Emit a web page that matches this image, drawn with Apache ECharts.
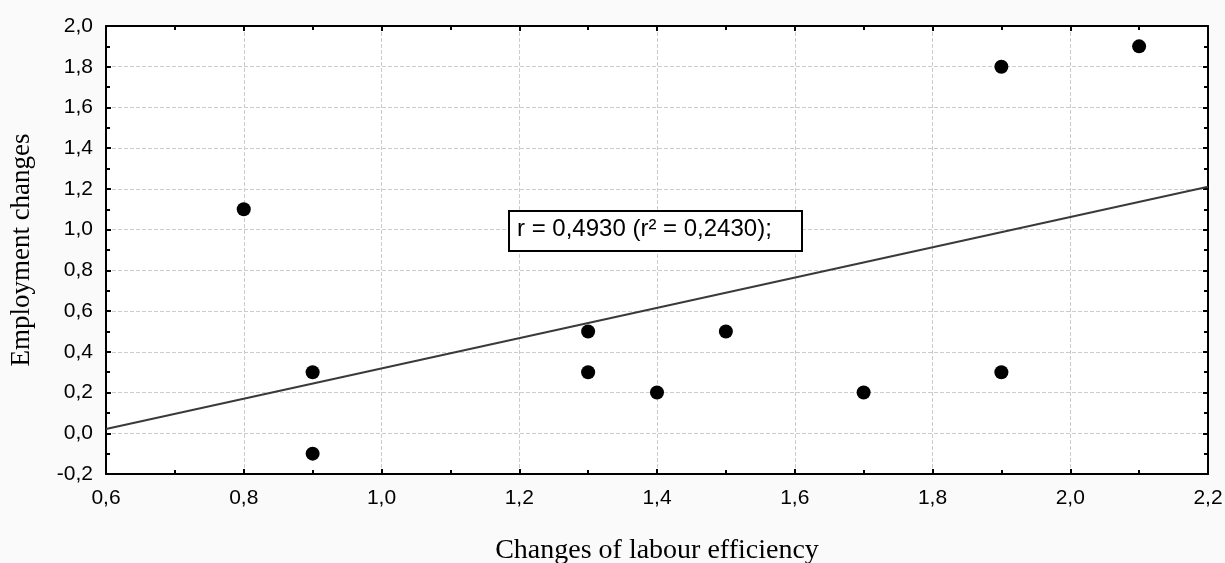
<!DOCTYPE html>
<html><head><meta charset="utf-8">
<script src="https://cdn.jsdelivr.net/npm/echarts@6/dist/echarts.min.js"></script>
<style>html,body{margin:0;padding:0;background:#fafafa}#c{width:1225px;height:563px}</style>
</head><body><div id="c"></div>
<script>
var xValues = [0.8, 0.9, 0.9, 1.3, 1.3, 1.4, 1.5, 1.7, 1.9, 1.9, 2.1];
var yValues = [1.1, 0.3, -0.1, 0.5, 0.3, 0.2, 0.5, 0.2, 1.8, 0.3, 1.9];
var xTitle = 'Changes of labour efficiency';
var yTitle = 'Employment changes';
var annotation = 'r = 0,4930 (r² = 0,2430);';

// least squares fit from the data
var n = xValues.length, mx = 0, my = 0;
for (var i = 0; i < n; i++) { mx += xValues[i]; my += yValues[i]; }
mx /= n; my /= n;
var sxy = 0, sxx = 0;
for (var i = 0; i < n; i++) { sxy += (xValues[i]-mx)*(yValues[i]-my); sxx += (xValues[i]-mx)*(xValues[i]-mx); }
var slope = sxy/sxx, icpt = my - slope*mx;
var fitLine = [[0.6, icpt + slope*0.6], [2.2, icpt + slope*2.2]];
var points = xValues.map(function(x, i){ return [x, yValues[i]]; });

var fmt = function(v){ return v.toFixed(1).replace('.', ','); };
var chart = echarts.init(document.getElementById('c'));
var axisBase = {
  axisLine: {show: true, onZero: false, lineStyle: {color: '#000', width: 2}},
  axisTick: {show: true, inside: true, length: 5, lineStyle: {color: '#000', width: 2}},
  minorTick: {show: true, splitNumber: 2, length: 4, lineStyle: {color: '#000', width: 2}}
};
chart.setOption({
  backgroundColor: '#fafafa',
  animation: false,
  grid: {left: 106, right: 17, top: 26, bottom: 89, show: true, backgroundColor: '#fff', borderWidth: 0,
         containLabel: false, outerBoundsMode: 'none'},
  xAxis: [
    Object.assign({type: 'value', min: 0.6, max: 2.2, interval: 0.2, position: 'bottom',
      name: xTitle, nameLocation: 'middle', nameGap: 63,
      nameTextStyle: {fontFamily: 'Liberation Serif', fontSize: 28, color: '#000'},
      axisLabel: {formatter: fmt, fontFamily: 'Liberation Sans', fontSize: 21, color: '#000', margin: 14},
      splitLine: {show: true, lineStyle: {color: '#ccc', type: 'dashed', width: 1}}}, axisBase),
    Object.assign({type: 'value', min: 0.6, max: 2.2, interval: 0.2, position: 'top',
      axisLabel: {show: false}, splitLine: {show: false}}, axisBase)
  ],
  yAxis: [
    Object.assign({type: 'value', min: -0.2, max: 2.0, interval: 0.2, position: 'left',
      name: yTitle, nameLocation: 'middle', nameGap: 71,
      nameTextStyle: {fontFamily: 'Liberation Serif', fontSize: 27, color: '#000'},
      axisLabel: {formatter: fmt, fontFamily: 'Liberation Sans', fontSize: 21, color: '#000', margin: 13},
      splitLine: {show: true, lineStyle: {color: '#ccc', type: 'dashed', width: 1}}}, axisBase),
    Object.assign({type: 'value', min: -0.2, max: 2.0, interval: 0.2, position: 'right',
      axisLabel: {show: false}, splitLine: {show: false}}, axisBase)
  ],
  series: [
    {type: 'line', data: fitLine, showSymbol: false, symbol: 'none',
     lineStyle: {color: '#3a3a3a', width: 2}, z: 2},
    {type: 'scatter', data: points, symbol: 'circle', symbolSize: 14,
     itemStyle: {color: '#000', opacity: 1}, z: 3}
  ],
  graphic: [
    {type: 'rect', left: 508, top: 210, z: 10,
     shape: {width: 293, height: 40},
     style: {fill: '#fff', stroke: '#000', lineWidth: 2}},
    {type: 'text', left: 517, top: 217, z: 11,
     style: {text: annotation, fontFamily: 'Liberation Sans', fontSize: 24, fill: '#000'}}
  ]
});
</script></body></html>
